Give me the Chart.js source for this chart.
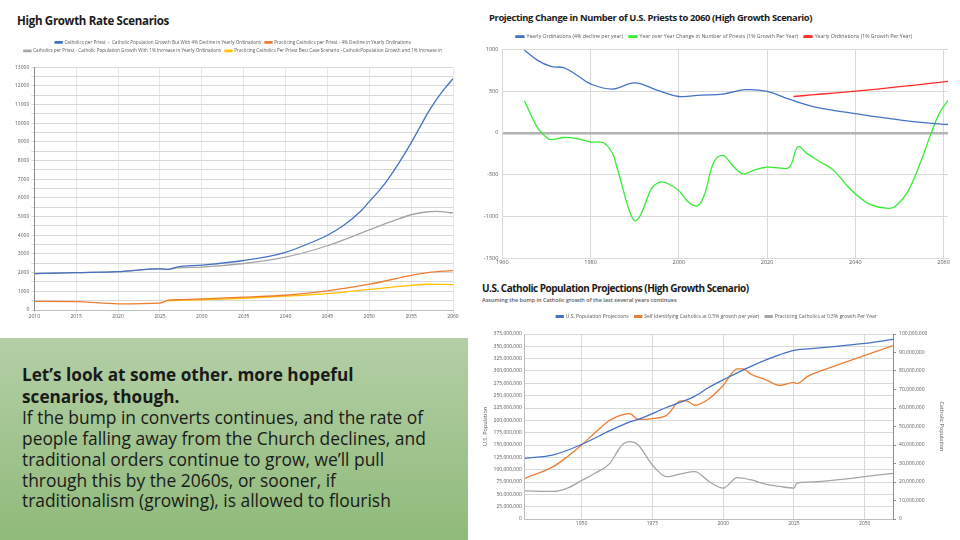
<!DOCTYPE html>
<html>
<head>
<meta charset="utf-8">
<script src="https://cdn.jsdelivr.net/npm/chart.js@4.4.1/dist/chart.umd.min.js"></script>
<style>
  body { margin: 0; width: 960px; height: 540px; background: #fff; position: relative; overflow: hidden; font-family: 'Open Sans', sans-serif; }
  .abs { position: absolute; }
  .title { position: absolute; font-weight: 700; color: #1a1a1a; white-space: nowrap; }
  #note {
    left: 0; top: 338px; width: 468px; height: 202px; box-sizing: border-box;
    padding: 26px 0 0 22px;
    background: linear-gradient(#b4cfa6, #8fba7a);
    color: #1a1a1a; font-size: 17.4px; line-height: 20.7px;
  }
  #note b { font-size: 17.2px; }
</style>
</head>
<body>

<div class="title" style="left:17px;top:13px;font-size:11.5px;letter-spacing:-0.3px;">High Growth Rate Scenarios</div>
<div class="abs" style="left:0;top:36px;width:462px;height:290px;"><canvas id="c1"></canvas></div>

<div class="title" style="left:489px;top:11px;font-size:9.4px;letter-spacing:-0.37px;">Projecting Change in Number of U.S. Priests to 2060 (High Growth Scenario)</div>
<div class="abs" style="left:480px;top:28px;width:480px;height:243px;"><canvas id="c2"></canvas></div>

<div class="title" style="left:482px;top:281px;font-size:10px;letter-spacing:-0.5px;">U.S. Catholic Population Projections (High Growth Scenario)</div>
<div class="title" style="left:482px;top:296px;font-size:5.5px;font-weight:600;color:#595959;">Assuming the bump in Catholic growth of the last several years continues</div>
<div class="abs" style="left:478px;top:308px;width:482px;height:225px;"><canvas id="c3"></canvas></div>

<div id="note" class="abs">
  <b>Let’s look at some other. more hopeful<br>scenarios, though.</b><br>
  If the bump in converts continues, and the rate of<br>
  people falling away from the Church declines, and<br>
  traditional orders continue to grow, we’ll pull<br>
  through this by the 2060s, or sooner, if<br>
  traditionalism (growing), is allowed to flourish
</div>

<script>
// ---- chart 1: High Growth Rate Scenarios ----
const names1 = [
  "Catholics per Priest  -  Catholic Population Growth But With 4% Decline in Yearly Ordinations",
  "Practicing Catholics per Priest - 4% Decline in Yearly Ordinations",
  "Catholics per Priest - Catholic Population Growth With 1% Increase in Yearly Ordinations",
  "Practicing Catholics Per Priest Best Case Scenario - CatholicPopulation Growth and 1% Increase in"
];
const blueYears1 = [2010, 2015, 2020, 2025, 2026, 2027, 2030, 2035, 2040, 2043, 2045, 2047, 2049, 2050, 2051, 2052, 2053, 2054, 2055, 2056, 2057, 2058, 2059, 2060];
const blue1 = [1950, 2000, 2050, 2200, 2170, 2300, 2400, 2650, 3090, 3600, 4000, 4550, 5300, 5800, 6300, 6850, 7500, 8200, 8950, 9750, 10550, 11250, 11850, 12380];
const orangeYears1 = [2010, 2015, 2020, 2025, 2026, 2027, 2030, 2035, 2040, 2045, 2050, 2055, 2057, 2060];
const orange1 = [460, 450, 330, 370, 530, 550, 600, 690, 790, 1020, 1380, 1850, 2000, 2110];
const grayYears1 = [2010, 2015, 2020, 2025, 2026, 2027, 2030, 2035, 2040, 2045, 2050, 2053, 2055, 2057, 2058, 2060];
const gray1 = [1950, 2000, 2050, 2200, 2170, 2250, 2300, 2490, 2830, 3440, 4290, 4800, 5100, 5260, 5280, 5200];
const yellowYears1 = [2026, 2030, 2035, 2040, 2045, 2050, 2055, 2057, 2060];
const yellow1 = [495, 550, 630, 740, 880, 1100, 1320, 1380, 1360];

// ---- chart 2: Projecting Change in Number of U.S. Priests ----
const names2 = [
  "Yearly Ordinations (4% decline per year)",
  "Year over Year Change in Number of Priests (1% Growth Per Year)",
  "Yearly Ordinations (1% Growth Per Year)"
];
const ordYears = [1965, 1968, 1971, 1974, 1977, 1980, 1985, 1990, 1995, 2000, 2005, 2010, 2015, 2020, 2025, 2030, 2035, 2040, 2045, 2050, 2055, 2061];
const ordinations = [988, 867, 794, 778, 685, 585, 524, 597, 512, 435, 452, 464, 516, 496, 403, 320, 270, 230, 190, 155, 125, 100];
const changeYears = [1965, 1968, 1970, 1971, 1974, 1977, 1980, 1983, 1985, 1986, 1987, 1988, 1989, 1990, 1991, 1992, 1993, 1994, 1996, 1998, 2000, 2002, 2004, 2005, 2006, 2008, 2010, 2012, 2014, 2015, 2017, 2020, 2022, 2025, 2027, 2029, 2032, 2035, 2039, 2043, 2047, 2049, 2052, 2055, 2057, 2059, 2061];
const change = [383, 60, -52, -80, -55, -70, -109, -121, -250, -420, -600, -800, -960, -1050, -1010, -900, -760, -650, -585, -620, -690, -820, -875, -830, -710, -340, -270, -380, -480, -490, -445, -410, -415, -411, -165, -245, -345, -445, -680, -845, -900, -880, -690, -320, -30, 230, 390];
const growthYears = [2026, 2030, 2035, 2040, 2045, 2050, 2055, 2061];
const growthOrd = [435, 453, 476, 498, 524, 552, 580, 615];
const xTicks2 = [1960, 1980, 2000, 2020, 2040, 2060];

// ---- chart 3: U.S. Catholic Population Projections (millions) ----
const names3 = [
  "U.S. Population Projections",
  "Self Identifying Catholics at 0.5% growth per year)",
  "Practicing Catholics at 0.5% growth Per Year"
];
const usYears = [1930, 1940, 1950, 1960, 1967, 1970, 1980, 1990, 1995, 2000, 2010, 2020, 2025, 2030, 2040, 2050, 2060];
const usPop = [123, 130, 151, 179, 197, 202, 226, 249, 267, 282, 310, 333, 342, 345, 350, 356, 364];
const selfYears = [1930, 1940, 1945, 1950, 1955, 1960, 1965, 1967, 1970, 1975, 1980, 1985, 1987, 1990, 1995, 2000, 2005, 2007, 2010, 2015, 2020, 2025, 2026, 2030, 2040, 2050, 2060];
const selfCath = [22, 28.3, 33.7, 40, 47, 53.4, 56.5, 57, 53.8, 54.3, 56, 63.8, 63.8, 61.5, 65, 72.2, 81.2, 81.2, 78.1, 75.3, 72.2, 73.8, 73.2, 77.2, 83, 88.4, 93.7];
const practYears = [1930, 1940, 1945, 1950, 1955, 1960, 1963, 1965, 1967, 1970, 1975, 1980, 1985, 1990, 1995, 2000, 2005, 2010, 2015, 2020, 2025, 2026, 2030, 2040, 2050, 2060];
const practCath = [15.2, 14.9, 16.7, 20.8, 25, 30.1, 37.3, 40.9, 41.8, 40, 29.2, 22.9, 24.4, 25.6, 20.3, 16.7, 22.4, 21.1, 18.8, 17.6, 16.7, 19.4, 19.9, 21.1, 22.9, 24.7];
const xTicks3 = [1950, 1975, 2000, 2025, 2050];

const pts = (xs, ys, k = 1) => xs.map((x, i) => ({ x: x, y: ys[i] * k }));
const FONT = "'Open Sans', sans-serif";
const TXT = '#595959';
const GRID = '#d9d9d9';

// adds some room under the legend, like the Excel charts have
function legendGap(px) {
  return {
    id: 'legendGap',
    beforeInit(chart) {
      const fit = chart.legend.fit;
      chart.legend.fit = function () { fit.call(this); this.height += px; };
    }
  };
}

function line(label, data, color, extra) {
  return Object.assign({ label: label, data: data, borderColor: color, backgroundColor: color,
    borderWidth: 1.3, pointRadius: 0, cubicInterpolationMode: 'monotone' }, extra || {});
}
function legend(size, box, pad) {
  return { position: 'top', labels: { font: { family: FONT, size: size }, color: TXT, boxWidth: box, boxHeight: 1.5, padding: pad } };
}

new Chart(document.getElementById('c1'), {
  type: 'line',
  data: { datasets: [
    line(names1[0], pts(blueYears1, blue1), '#4472C4'),
    line(names1[1], pts(orangeYears1, orange1), '#ED7D31'),
    line(names1[2], pts(grayYears1, gray1), '#A5A5A5'),
    line(names1[3], pts(yellowYears1, yellow1), '#FFC000')
  ]},
  plugins: [legendGap(4)],
  options: {
    maintainAspectRatio: false, animation: false,
    layout: { padding: { left: 13, right: 9, top: 0, bottom: 5 } },
    plugins: { legend: legend(4.6, 7, 4), tooltip: { enabled: false } },
    scales: {
      x: { type: 'linear', min: 2010, max: 2060,
        ticks: { stepSize: 5, font: { family: FONT, size: 5 }, color: TXT, maxRotation: 0, padding: 1, callback: v => String(v) },
        grid: { color: '#e6e6e6', tickLength: 3 }, border: { color: '#bfbfbf' } },
      y: { min: 0, max: 13000,
        ticks: { stepSize: 500, font: { family: FONT, size: 5 }, color: TXT, padding: 2,
          callback: v => (v % 1000 === 0 ? String(v) : '') },
        grid: { color: GRID, tickLength: 3 }, border: { color: '#8c8c8c' } }
    }
  }
});

new Chart(document.getElementById('c2'), {
  type: 'line',
  data: { datasets: [
    line(names2[0], pts(ordYears, ordinations), '#4472C4', { cubicInterpolationMode: 'default', tension: 0.4 }),
    line(names2[1], pts(changeYears, change), '#33EE33', { cubicInterpolationMode: 'default', tension: 0.4 }),
    line(names2[2], pts(growthYears, growthOrd), '#FF2A2A', { cubicInterpolationMode: 'default', tension: 0.4 })
  ]},
  options: {
    maintainAspectRatio: false, animation: false,
    layout: { padding: { left: 0, right: 12, top: 0, bottom: 4 } },
    plugins: { legend: legend(5.2, 8, 6), tooltip: { enabled: false } },
    scales: {
      x: { type: 'linear', min: 1960, max: 2061,
        afterBuildTicks: s => { s.ticks = xTicks2.map(v => ({ value: v })); },
        ticks: { font: { family: FONT, size: 5.5 }, color: TXT, maxRotation: 0, padding: 1, callback: v => String(v) },
        grid: { color: GRID, tickLength: 0 }, border: { color: GRID } },
      y: { min: -1500, max: 1000,
        ticks: { stepSize: 500, font: { family: FONT, size: 5.5 }, color: TXT, padding: 4, callback: v => String(v) },
        grid: { color: c => (c.tick && c.tick.value === 0 ? '#b3b3b3' : GRID),
                lineWidth: c => (c.tick && c.tick.value === 0 ? 2.5 : 1), tickLength: 0 },
        border: { color: GRID } }
    }
  }
});

new Chart(document.getElementById('c3'), {
  type: 'line',
  data: { datasets: [
    line(names3[0], pts(usYears, usPop, 1e6), '#4472C4', { yAxisID: 'y' }),
    line(names3[1], pts(selfYears, selfCath, 1e6), '#ED7D31', { yAxisID: 'y1' }),
    line(names3[2], pts(practYears, practCath, 1e6), '#A5A5A5', { yAxisID: 'y1' })
  ]},
  plugins: [legendGap(5)],
  options: {
    maintainAspectRatio: false, animation: false,
    layout: { padding: { left: 2, right: 7, top: 0, bottom: 4 } },
    plugins: { legend: legend(5, 7, 6), tooltip: { enabled: false } },
    scales: {
      x: { type: 'linear', min: 1930, max: 2060,
        afterBuildTicks: s => { s.ticks = xTicks3.map(v => ({ value: v })); },
        ticks: { font: { family: FONT, size: 5 }, color: TXT, maxRotation: 0, padding: 2, callback: v => String(v) },
        grid: { color: GRID, tickLength: 0 }, border: { color: '#bfbfbf' } },
      y: { position: 'left', min: 0, max: 375e6,
        title: { display: true, text: 'U.S. Population', font: { family: FONT, size: 5.5 }, color: TXT, padding: 2 },
        ticks: { stepSize: 25e6, font: { family: FONT, size: 5 }, color: TXT, padding: 3, callback: v => v.toLocaleString('en-US') },
        grid: { color: GRID, tickLength: 0 }, border: { color: '#bfbfbf' } },
      y1: { position: 'right', min: 0, max: 100e6,
        title: { display: true, text: 'Catholic Population', font: { family: FONT, size: 5.5 }, color: TXT, padding: 8 },
        ticks: { stepSize: 10e6, font: { family: FONT, size: 5 }, color: TXT, padding: 3, callback: v => v.toLocaleString('en-US') },
        grid: { drawOnChartArea: false, color: '#8c8c8c', tickLength: 3 }, border: { color: '#8c8c8c' } }
    }
  }
});
</script>
</body>
</html>
